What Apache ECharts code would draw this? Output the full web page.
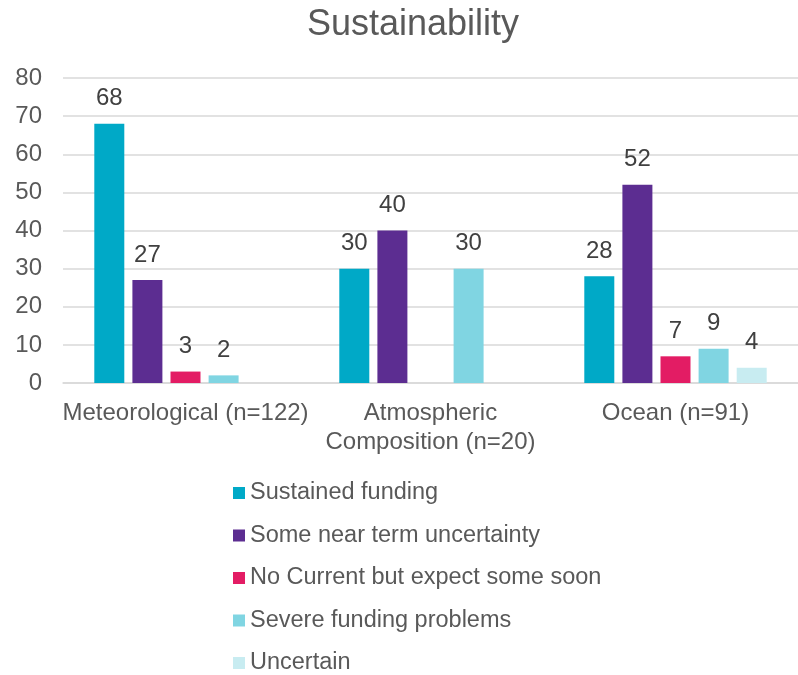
<!DOCTYPE html>
<html>
<head>
<meta charset="utf-8">
<script src="https://cdn.jsdelivr.net/npm/echarts@6/dist/echarts.min.js"></script>
<style>
  html, body { margin: 0; padding: 0; background: #fff; }
  #chart { width: 798px; height: 675px; }
</style>
</head>
<body>
<div id="chart"></div>
<script>
const categories = ['Meteorological (n=122)', 'Atmospheric\nComposition (n=20)', 'Ocean (n=91)'];
const seriesNames = [
    'Sustained funding',
    'Some near term uncertainty',
    'No Current but expect some soon',
    'Severe funding problems',
    'Uncertain'
];
const sustained = [68, 30, 28];
const nearTerm = [27, 40, 52];
const noCurrent = [3, 0, 7];
const severe = [2, 30, 9];
const uncertain = [0, 0, 4];
const yTicks = { min: 0, max: 80, interval: 10 };

const colors = ['#00A9C7', '#5C2D91', '#E31C64', '#80D5E2', '#C8ECF1'];
const font = 'Liberation Sans, Arial, sans-serif';

const chart = echarts.init(document.getElementById('chart'), null, { renderer: 'canvas' });

const makeSeries = (name, values, i) => ({
    name: name,
    type: 'bar',
    data: values,
    barWidth: 30,
    barGap: '27%',
    itemStyle: { color: colors[i] },
    label: {
        show: true,
        position: 'top',
        distance: 13,
        color: '#404040',
        fontSize: 24,
        fontFamily: font,
        formatter: (p) => (p.value === 0 ? '' : p.value)
    }
});

chart.setOption({
    animation: false,
    title: {
        text: 'Sustainability',
        left: 307,
        top: 7,
        padding: 0,
        textStyle: { color: '#595959', fontSize: 36, fontWeight: 'normal', fontFamily: font }
    },
    legend: {
        orient: 'vertical',
        left: 233,
        top: 481,
        height: 240,
        padding: 0,
        itemWidth: 12,
        itemHeight: 12,
        itemGap: 18.5,
        icon: 'rect',
        data: seriesNames,
        textStyle: { color: '#595959', fontSize: 23.5, lineHeight: 24, fontFamily: font }
    },
    grid: { left: 63, top: 78, right: 0, height: 305, containLabel: false },
    xAxis: {
        type: 'category',
        data: categories,
        axisTick: { show: false },
        axisLine: { lineStyle: { color: '#D9D9D9', width: 1.5 } },
        axisLabel: {
            color: '#595959',
            fontSize: 24,
            fontFamily: font,
            margin: 16,
            lineHeight: 29,
            interval: 0
        }
    },
    yAxis: {
        type: 'value',
        min: yTicks.min,
        max: yTicks.max,
        interval: yTicks.interval,
        axisLine: { show: false },
        axisTick: { show: false },
        splitLine: { lineStyle: { color: '#D9D9D9', width: 1.5 } },
        axisLabel: { color: '#595959', fontSize: 24, fontFamily: font, margin: 21 }
    },
    series: [
        makeSeries(seriesNames[0], sustained, 0),
        makeSeries(seriesNames[1], nearTerm, 1),
        makeSeries(seriesNames[2], noCurrent, 2),
        makeSeries(seriesNames[3], severe, 3),
        makeSeries(seriesNames[4], uncertain, 4)
    ]
});
</script>
</body>
</html>
